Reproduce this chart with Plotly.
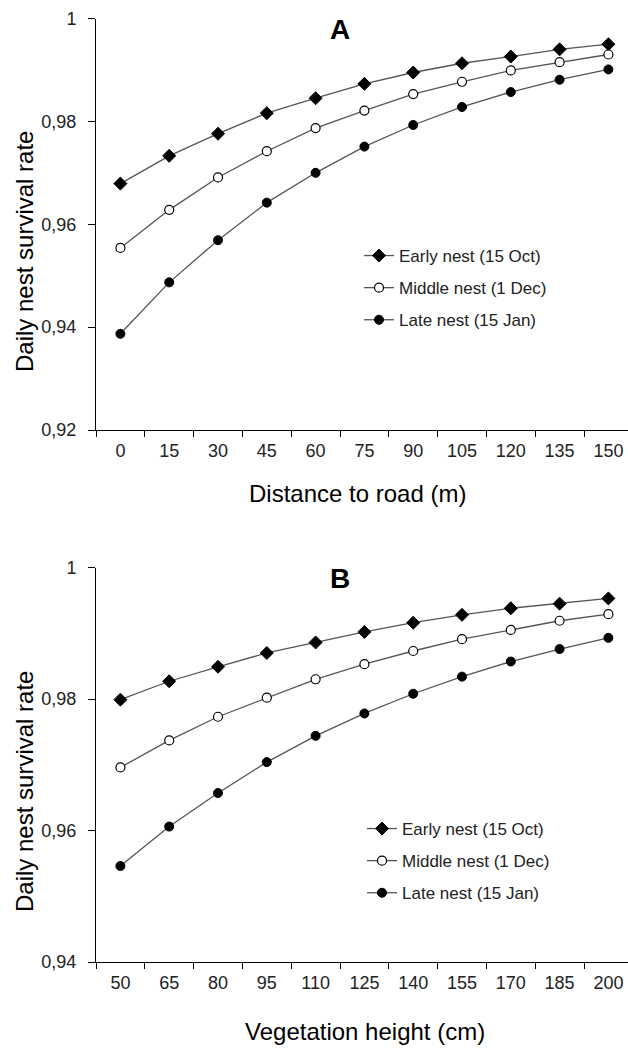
import plotly.graph_objects as go

# ---------------- data ----------------
dist_labels = ["0", "15", "30", "45", "60", "75", "90", "105", "120", "135", "150"]
dist_early = [0.9679, 0.9733, 0.9776, 0.9816, 0.9845, 0.9873, 0.9895, 0.9913, 0.9926, 0.9940, 0.9950]
dist_middle = [0.9554, 0.9628, 0.9691, 0.9742, 0.9787, 0.9821, 0.9853, 0.9877, 0.9899, 0.9915, 0.9930]
dist_late = [0.9387, 0.9487, 0.9569, 0.9642, 0.9700, 0.9751, 0.9793, 0.9828, 0.9857, 0.9881, 0.9901]

veg_labels = ["50", "65", "80", "95", "110", "125", "140", "155", "170", "185", "200"]
veg_early = [0.9799, 0.9827, 0.9849, 0.9870, 0.9886, 0.9902, 0.9916, 0.9928, 0.9938, 0.9945, 0.9953]
veg_middle = [0.9696, 0.9737, 0.9773, 0.9802, 0.9830, 0.9853, 0.9873, 0.9891, 0.9905, 0.9919, 0.9929]
veg_late = [0.9546, 0.9606, 0.9657, 0.9704, 0.9744, 0.9778, 0.9808, 0.9834, 0.9857, 0.9876, 0.9893]

series_names = ["Early nest (15 Oct)", "Middle nest (1 Dec)", "Late nest (15 Jan)"]
yticks_a = [0.92, 0.94, 0.96, 0.98, 1.0]
yticks_b = [0.94, 0.96, 0.98, 1.0]

# ---------------- figure ----------------
W, H = 628, 1048
FONT = "Liberation Sans, Arial, sans-serif"
LINE_COL = "#555555"

marker_styles = [
    dict(symbol="diamond", size=10, color="black", line=dict(color="black", width=1)),
    dict(symbol="circle", size=9, color="white", line=dict(color="black", width=1.2)),
    dict(symbol="circle", size=9, color="black", line=dict(color="black", width=1)),
]

fig = go.Figure()

for i, (name, ys) in enumerate(zip(series_names, [dist_early, dist_middle, dist_late])):
    fig.add_trace(go.Scatter(
        x=dist_labels, y=ys, name=name, mode="lines+markers",
        line=dict(color=LINE_COL, width=1.3), marker=marker_styles[i],
        xaxis="x", yaxis="y", legend="legend", legendgroup="a%d" % i,
    ))
for i, (name, ys) in enumerate(zip(series_names, [veg_early, veg_middle, veg_late])):
    fig.add_trace(go.Scatter(
        x=veg_labels, y=ys, name=name, mode="lines+markers",
        line=dict(color=LINE_COL, width=1.3), marker=marker_styles[i],
        xaxis="x2", yaxis="y2", legend="legend2", legendgroup="b%d" % i,
    ))

def px_x(p):
    return p / W

def px_y(p):
    return 1 - p / H

x_left, x_right = 96, 628
cat_w = 48.8
xr = [-0.5, -0.5 + (x_right - x_left) / cat_w]

common_x = dict(
    type="category", tickson="boundaries", ticks="outside", ticklen=6,
    tickcolor="black", tickwidth=1, showline=True, linecolor="black", linewidth=1,
    showgrid=False, zeroline=False, range=xr, domain=[px_x(x_left), 1.0],
    tickfont=dict(family=FONT, size=18, color="#222"), automargin=False,
    ticklabelstandoff=4,
)
common_y = dict(
    ticks="outside", ticklen=7, tickcolor="black", tickwidth=1, showline=True,
    linecolor="black", linewidth=1, showgrid=False, zeroline=False,
    tickfont=dict(family=FONT, size=18, color="#222"), automargin=False,
    ticklabelstandoff=8,
)

fig.update_layout(
    width=W, height=H, margin=dict(l=0, r=0, t=0, b=0),
    paper_bgcolor="white", plot_bgcolor="white",
    separators=",.",
    font=dict(family=FONT, color="black"),
    xaxis=dict(common_x, anchor="y", categoryorder="array", categoryarray=dist_labels),
    yaxis=dict(common_y, anchor="x", range=[0.92, 1.0], tickvals=yticks_a,
               domain=[px_y(430), px_y(18.5)]),
    xaxis2=dict(common_x, anchor="y2", categoryorder="array", categoryarray=veg_labels),
    yaxis2=dict(common_y, anchor="x2", range=[0.94, 1.0], tickvals=yticks_b,
                domain=[px_y(962), px_y(567.5)]),
    legend=dict(x=px_x(359), y=px_y(238), xanchor="left", yanchor="top",
                font=dict(family=FONT, size=17, color="#222"), tracegroupgap=7,
                bgcolor="rgba(0,0,0,0)", traceorder="grouped"),
    legend2=dict(x=px_x(362), y=px_y(811), xanchor="left", yanchor="top",
                 font=dict(family=FONT, size=17, color="#222"), tracegroupgap=7,
                 bgcolor="rgba(0,0,0,0)", traceorder="grouped"),
    showlegend=True,
)

annots = [
    dict(text="<b>A</b>", x=px_x(340), y=px_y(29), size=28, angle=0),
    dict(text="<b>B</b>", x=px_x(340), y=px_y(578), size=28, angle=0),
    dict(text="Distance to road (m)", x=px_x(357), y=px_y(493), size=24, angle=0),
    dict(text="Vegetation height (cm)", x=px_x(365), y=px_y(1031), size=24, angle=0),
    dict(text="Daily nest survival rate", x=px_x(24), y=px_y(252), size=24, angle=-90),
    dict(text="Daily nest survival rate", x=px_x(24), y=px_y(792), size=24, angle=-90),
]
for a in annots:
    fig.add_annotation(
        text=a["text"], x=a["x"], y=a["y"], xref="paper", yref="paper",
        xanchor="center", yanchor="middle", showarrow=False, textangle=a["angle"],
        font=dict(family=FONT, size=a["size"], color="black"),
    )

fig.write_html(
    "out.html",
    config={"displayModeBar": False},
    post_script="document.body.style.margin='0';document.body.style.overflow='hidden';",
)
